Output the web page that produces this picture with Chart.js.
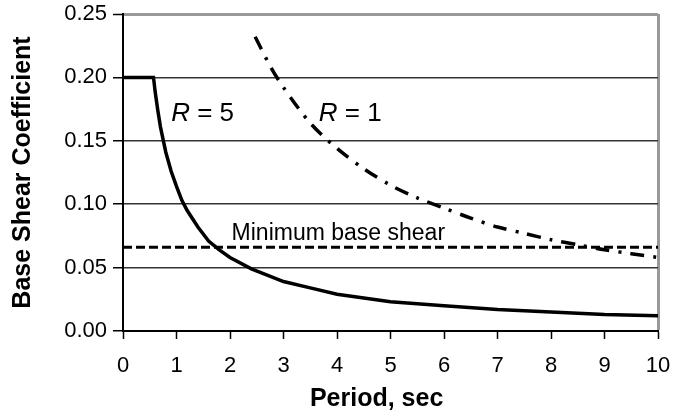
<!DOCTYPE html>
<html>
<head>
<meta charset="utf-8">
<script src="https://cdn.jsdelivr.net/npm/chart.js@4.4.1/dist/chart.umd.min.js"></script>
<style>
  body { margin: 0; background: #fff; }
</style>
</head>
<body>
<canvas id="shearChart" width="676" height="414"></canvas>
<script>
// Dữ liệu
const periodR5 = [0, 0.57, 0.6, 0.65, 0.7, 0.75, 0.8, 0.9, 1.0, 1.1, 1.2, 1.4, 1.6, 1.8, 2.0, 2.4, 3.0, 3.5, 4, 5, 6, 7, 8, 9, 10];
const shearR5 = [0.200, 0.200, 0.189, 0.174, 0.161, 0.151, 0.141, 0.126, 0.114, 0.103, 0.095, 0.082, 0.071, 0.064, 0.058, 0.049, 0.039, 0.034, 0.029, 0.023, 0.020, 0.017, 0.015, 0.013, 0.012];

const periodR1 = [2.47, 2.75, 3, 3.5, 4, 4.5, 5, 5.5, 6, 6.5, 7, 7.5, 8, 8.5, 9, 9.5, 10];
const shearR1 = [0.232, 0.209, 0.192, 0.164, 0.144, 0.128, 0.115, 0.105, 0.097, 0.089, 0.082, 0.077, 0.072, 0.068, 0.064, 0.061, 0.058];

const periodMin = [0, 10];
const shearMin = [0.066, 0.066];

const toPoints = (xs, ys) => xs.map((x, i) => ({ x: x, y: ys[i] }));

Chart.defaults.font.family = "'Liberation Sans', Arial, sans-serif";
Chart.defaults.color = "#000";

// Vẽ các nhãn chữ trong vùng biểu đồ
const textLabels = {
    id: "textLabels",
    afterDatasetsDraw(chart) {
        const ctx = chart.ctx;
        const x = chart.scales.x;
        const y = chart.scales.y;
        ctx.save();
        ctx.fillStyle = "#000";
        ctx.textBaseline = "alphabetic";
        ctx.textAlign = "left";

        function rLabel(text, px, py) {
            let left = x.getPixelForValue(px);
            const base = y.getPixelForValue(py);
            ctx.font = "italic 26px 'Liberation Sans', Arial, sans-serif";
            ctx.fillText("R", left, base);
            left += ctx.measureText("R").width;
            ctx.font = "26px 'Liberation Sans', Arial, sans-serif";
            ctx.fillText(text, left, base);
        }
        rLabel(" = 5", 0.9, 0.1656);
        rLabel(" = 1", 3.66, 0.1656);

        ctx.font = "23px 'Liberation Sans', Arial, sans-serif";
        ctx.fillText("Minimum base shear", x.getPixelForValue(2.03), y.getPixelForValue(0.0717));
        ctx.restore();
    }
};

// Cố định kích thước trục để vùng vẽ khớp với hình gốc
function fixLeft(scale) {
    scale.width = 123;
    scale.paddingTop = 0;
    scale.paddingBottom = 0;
}
function fixBottom(scale) {
    scale.height = 83;
    scale.paddingLeft = 0;
    scale.paddingRight = 0;
}

new Chart(document.getElementById("shearChart"), {
    type: "line",
    data: {
        datasets: [
            {
                label: "R = 5",
                data: toPoints(periodR5, shearR5),
                borderColor: "#000",
                borderWidth: 3.5,
                pointRadius: 0,
                tension: 0
            },
            {
                label: "R = 1",
                data: toPoints(periodR1, shearR1),
                borderColor: "#000",
                borderWidth: 3.5,
                borderDash: [14, 9, 3, 9],
                pointRadius: 0,
                tension: 0.3
            },
            {
                label: "Minimum base shear",
                data: toPoints(periodMin, shearMin),
                borderColor: "#000",
                borderWidth: 3,
                borderDash: [9, 4],
                pointRadius: 0
            }
        ]
    },
    options: {
        responsive: false,
        animation: false,
        devicePixelRatio: 1,
        layout: { padding: { top: 14, right: 18, left: 0, bottom: 0 } },
        plugins: {
            legend: { display: false },
            tooltip: { enabled: false }
        },
        scales: {
            x: {
                type: "linear",
                min: 0,
                max: 10,
                afterFit: fixBottom,
                ticks: { stepSize: 1, padding: 14, font: { size: 22 }, color: "#000" },
                grid: {
                    drawOnChartArea: true,
                    color: (c) => (c.tick && c.tick.value === 10 ? "#999" : "rgba(0,0,0,0)"),
                    lineWidth: (c) => (c.tick && c.tick.value === 10 ? 3 : 1),
                    tickColor: "#000",
                    tickWidth: 1.5,
                    tickLength: 8
                },
                border: { color: "#000", width: 2 },
                title: {
                    display: true,
                    text: "Period, sec    ",
                    font: { size: 25, weight: "bold" },
                    padding: { top: 0, bottom: 0 }
                }
            },
            y: {
                min: 0,
                max: 0.25,
                afterFit: fixLeft,
                ticks: {
                    stepSize: 0.05,
                    padding: 6,
                    font: { size: 22 },
                    color: "#000",
                    callback: (v) => v.toFixed(2)
                },
                grid: {
                    color: (c) => {
                        if (!c.tick) return "#333";
                        if (Math.abs(c.tick.value - 0.25) < 1e-6) return "#999";
                        return "#333";
                    },
                    lineWidth: (c) => (c.tick && Math.abs(c.tick.value - 0.25) < 1e-6 ? 3 : 1.5),
                    tickColor: "#000",
                    tickWidth: 1.5,
                    tickLength: 10
                },
                border: { color: "#000", width: 2 },
                title: {
                    display: true,
                    text: "Base Shear Coefficient",
                    font: { size: 25, weight: "bold" },
                    padding: { top: 8, bottom: 0 }
                }
            }
        }
    },
    plugins: [textLabels]
});
</script>
</body>
</html>
